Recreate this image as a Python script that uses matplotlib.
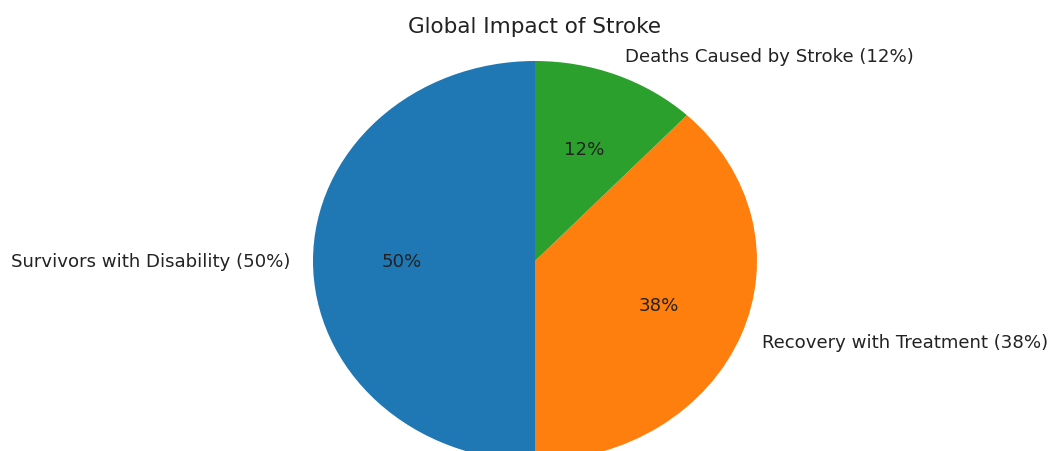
import matplotlib.pyplot as plt

plt.rcParams["font.family"] = ["DejaVu Sans"]

labels = ["Survivors with Disability (50%)", "Recovery with Treatment (38%)", "Deaths Caused by Stroke (12%)"]
sizes = [50, 38, 12]
colors = ["#1f77b4", "#ff7f0e", "#2ca02c"]

fig = plt.figure(figsize=(10.51, 4.52), dpi=100)
ax = fig.add_axes([0, 0, 1, 1])

wedges, texts, autotexts = ax.pie(
    sizes,
    labels=labels,
    colors=colors,
    autopct="%1.0f%%",
    startangle=90,
    textprops={"fontsize": 13.1, "color": "#222222"},
)

# the original is slightly stretched sideways and cut off at the bottom
ax.set_aspect("auto")
ax.set_xlim(-535 / 222, (1051 - 535) / 222)
ax.set_ylim(-190 / 200, 262 / 200)

fig.text(535 / 1051, 1 - 27 / 452, "Global Impact of Stroke", ha="center", va="center",
         fontsize=15.5, color="#222222")

plt.savefig("out.png", dpi=100)
